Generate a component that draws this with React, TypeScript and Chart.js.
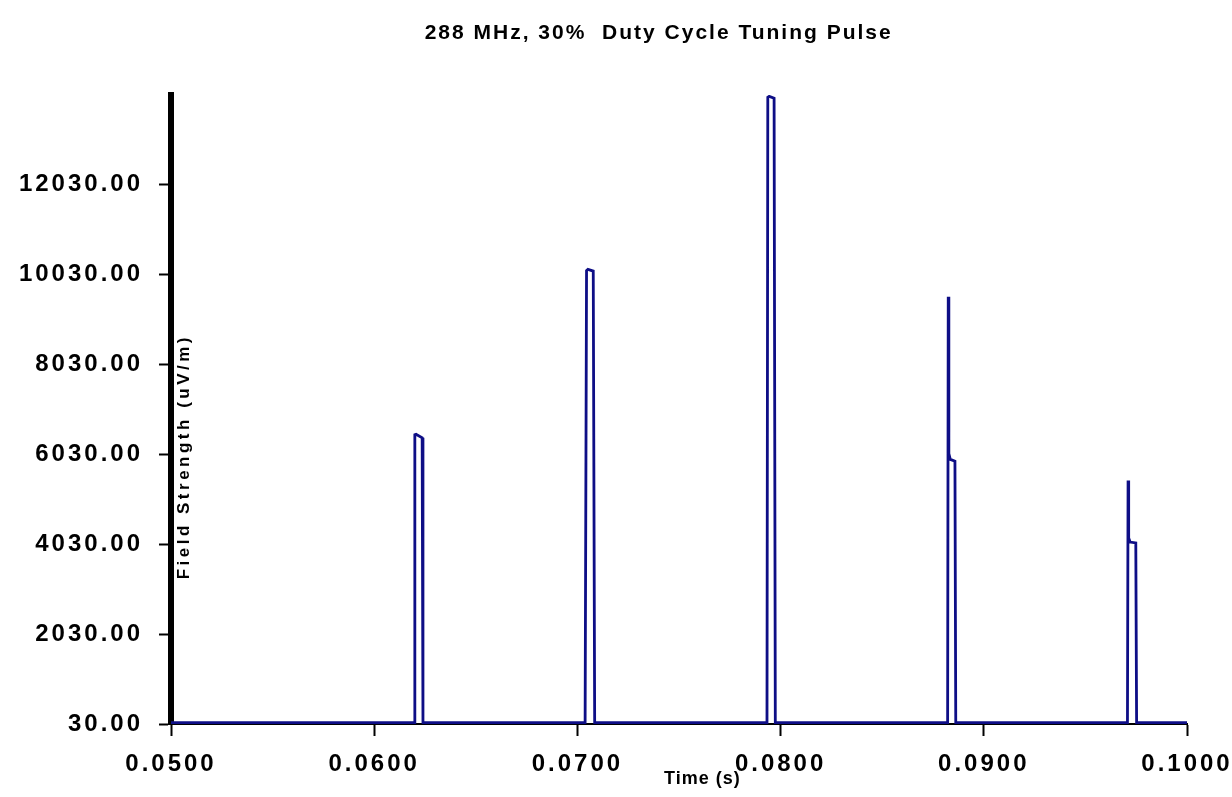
import React, { useEffect, useRef } from "react";
import { Chart, registerables } from "chart.js";

Chart.register(...registerables);

const chartTitle = "288 MHz, 30%  Duty Cycle Tuning Pulse";
const xAxisTitle = "Time (s)";
const yAxisTitle = "Field Strength (uV/m)";

const xTickValues = [0.05, 0.06, 0.07, 0.08, 0.09, 0.1];
const yTickValues = [30, 2030, 4030, 6030, 8030, 10030, 12030, 14030];

// Time (s)
const timeS = [
  0.05,
  0.06198, 0.062, 0.06206, 0.06236, 0.0624,
  0.07038, 0.07045, 0.07052, 0.07078, 0.07085,
  0.07933, 0.07937, 0.07944, 0.07968, 0.07974,
  0.08822, 0.08825, 0.08828, 0.08835, 0.08858, 0.08862,
  0.09707, 0.0971, 0.09713, 0.0972, 0.09748, 0.09752,
  0.1,
];

// Field strength (uV/m)
const fieldStrength = [
  60,
  60, 6470, 6480, 6400, 60,
  60, 10120, 10150, 10110, 60,
  60, 13980, 14000, 13960, 60,
  60, 9540, 6050, 5920, 5880, 60,
  60, 5450, 4170, 4080, 4060, 60,
  60,
];

const FONT = '"Liberation Sans", Arial, sans-serif';

const textPlugin = {
  id: "spacingAndTitles",
  beforeDraw(chart: any) {
    chart.ctx.letterSpacing = "3px";
  },
  afterDraw(chart: any) {
    const ctx = chart.ctx;
    const area = chart.chartArea;
    const w = area.right - area.left;
    const h = area.bottom - area.top;

    // chart title
    ctx.save();
    ctx.fillStyle = "#000";
    ctx.textAlign = "center";
    ctx.textBaseline = "middle";
    ctx.letterSpacing = "2px";
    ctx.font = `bold 21px ${FONT}`;
    ctx.fillText(chartTitle, area.left + w * 0.48, area.top - 62);
    ctx.restore();

    // y axis title (drawn inside the plot, as in the source)
    ctx.save();
    ctx.fillStyle = "#000";
    ctx.textAlign = "center";
    ctx.textBaseline = "middle";
    ctx.letterSpacing = "3.5px";
    ctx.font = `bold 17px ${FONT}`;
    ctx.translate(area.left + 13, area.top + h * 0.575);
    ctx.rotate(-Math.PI / 2);
    ctx.fillText(yAxisTitle, 0, 0);
    ctx.restore();

    // x axis title
    ctx.save();
    ctx.fillStyle = "#000";
    ctx.textAlign = "center";
    ctx.textBaseline = "middle";
    ctx.letterSpacing = "1px";
    ctx.font = `bold 18px ${FONT}`;
    ctx.fillText(xAxisTitle, area.left + w * 0.523, area.bottom + 55);
    ctx.restore();
    ctx.letterSpacing = "0px";
  },
};

export default function App() {
  const ref = useRef<HTMLCanvasElement | null>(null);

  useEffect(() => {
    if (!ref.current) return;
    const points = timeS.map((t, i) => ({ x: t, y: fieldStrength[i] }));
    const chart = new Chart(ref.current, {
      type: "line",
      data: {
        datasets: [
          {
            data: points,
            borderColor: "#0e0e86",
            borderWidth: 2.8,
            pointRadius: 0,
            tension: 0,
            fill: false,
          },
        ],
      },
      plugins: [textPlugin],
      options: {
        animation: false,
        responsive: false,
        devicePixelRatio: 1,
        layout: { padding: { left: 0, right: 45, top: 95, bottom: 0 } },
        plugins: {
          legend: { display: false },
          tooltip: { enabled: false },
          title: { display: false },
        },
        scales: {
          x: {
            type: "linear",
            min: 0.05,
            max: 0.1,
            afterBuildTicks: (scale: any) => {
              scale.ticks = xTickValues.map((v) => ({ value: v }));
            },
            afterFit: (scale: any) => {
              scale.height = 73;
              scale.paddingLeft = 0;
              scale.paddingRight = 0;
            },
            ticks: {
              color: "#000",
              font: { family: FONT, size: 24, weight: "bold" },
              padding: 14,
              maxRotation: 0,
              autoSkip: false,
              callback: (v: any) => Number(v).toFixed(4),
            },
            grid: {
              drawOnChartArea: false,
              drawTicks: true,
              tickLength: 12,
              tickWidth: 2,
              tickColor: "#000",
            },
            border: { display: true, color: "#000", width: 2 },
          },
          y: {
            type: "linear",
            min: 30,
            max: 14030,
            afterBuildTicks: (scale: any) => {
              scale.ticks = yTickValues.map((v) => ({ value: v }));
            },
            afterFit: (scale: any) => {
              scale.width = 171;
              scale.paddingTop = 0;
              scale.paddingBottom = 0;
            },
            ticks: {
              color: "#000",
              font: { family: FONT, size: 24, weight: "bold" },
              padding: 16,
              autoSkip: false,
              callback: (v: any) => (Number(v) === 14030 ? "" : Number(v).toFixed(2)),
            },
            grid: {
              drawOnChartArea: false,
              drawTicks: true,
              tickLength: 12,
              tickWidth: 2,
              tickColor: (c: any) => (c.tick && c.tick.value === 14030 ? "rgba(0,0,0,0)" : "#000"),
            },
            border: { display: true, color: "#000", width: 6 },
          },
        },
      },
    });
    return () => chart.destroy();
  }, []);

  return (
    <div style={{ position: "fixed", left: 0, top: 0, width: 1232, height: 797, background: "#fff" }}>
      <canvas ref={ref} width={1232} height={797} style={{ display: "block" }} />
    </div>
  );
}
